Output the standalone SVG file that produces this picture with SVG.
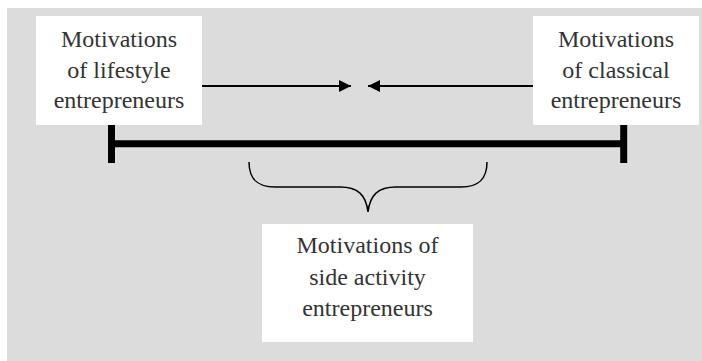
<svg xmlns="http://www.w3.org/2000/svg" width="702" height="361" viewBox="0 0 702 361">
<style>
.box{fill:#ffffff}
.lbl{font-family:"Liberation Serif","Times New Roman",serif;font-size:24px;fill:#333333;text-anchor:middle}
.arrow{stroke:#000;stroke-width:2;fill:none}
.bar{stroke:#000;stroke-width:7;fill:none}
.brace{stroke:#000;stroke-width:1.5;fill:none}
</style>
<defs>
<marker id="ah" markerWidth="12" markerHeight="12" refX="12" refY="6" orient="auto" markerUnits="userSpaceOnUse">
<path d="M0,0 L12,6 L0,12 Z" fill="#000"/>
</marker>
</defs>
<rect x="7" y="8" width="695" height="353" fill="#dcdcdc"/>
<g id="connectors">
<line class="arrow" x1="202" y1="86" x2="351" y2="86" marker-end="url(#ah)"/>
<line class="arrow" x1="533" y1="86" x2="368" y2="86" marker-end="url(#ah)"/>
<line class="bar" x1="111.5" y1="143.7" x2="623.7" y2="143.7"/>
<line class="bar" x1="111.5" y1="120" x2="111.5" y2="163"/>
<line class="bar" x1="623.7" y1="120" x2="623.7" y2="163"/>
<path class="brace" d="M249,162 C249,180 258,187 275,187 L340,187 C358,187 366,195 368,212 C370,195 378,187 396,187 L461,187 C478,187 487,180 487,162"/>
</g>
<g id="lifestyle">
<rect class="box" x="36" y="16" width="166" height="109"/>
<text class="lbl" x="119" y="47">Motivations</text>
<text class="lbl" x="119" y="78">of lifestyle</text>
<text class="lbl" x="119" y="108">entrepreneurs</text>
</g>
<g id="classical">
<rect class="box" x="533" y="16" width="166" height="109"/>
<text class="lbl" x="616" y="47">Motivations</text>
<text class="lbl" x="616" y="78">of classical</text>
<text class="lbl" x="616" y="108">entrepreneurs</text>
</g>
<g id="side">
<rect class="box" x="262" y="224" width="211" height="118"/>
<text class="lbl" x="367.5" y="253">Motivations of</text>
<text class="lbl" x="367.5" y="284.5">side activity</text>
<text class="lbl" x="367.5" y="315.5">entrepreneurs</text>
</g>
</svg>
